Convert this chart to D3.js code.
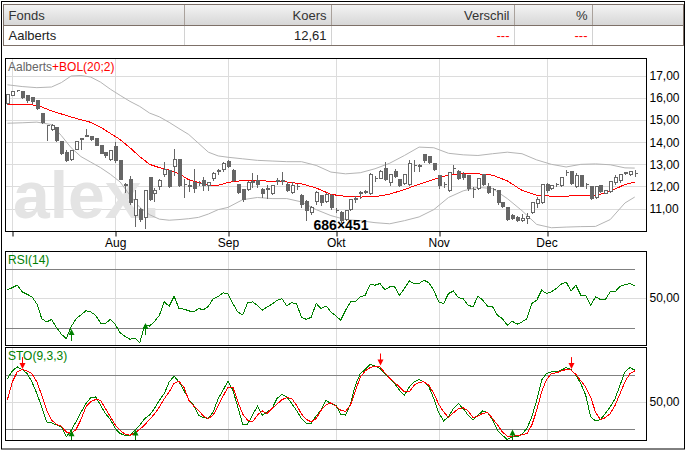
<!DOCTYPE html>
<html>
<head>
<meta charset="utf-8">
<script src="https://cdn.jsdelivr.net/npm/d3@7"></script>
<style>
body { margin: 0; background: #fff; }
svg { display: block; font-family: Arial, "Liberation Sans", sans-serif; }
</style>
</head>
<body>
<svg id="chart" width="686" height="451"></svg>
<script>
// ---- data (day index 0 = 30 Jun, last = 28 Dec) ----
const tableHeaders = ["Fonds", "Koers", "Verschil", "%"];
const tableRow = ["Aalberts", "12,61", "---", "---"];

const monthIdx = [1, 22, 45, 67, 88, 110];
const monthLabels = ["", "Aug", "Sep", "Okt", "Nov", "Dec"];
const priceTicks = [11, 12, 13, 14, 15, 16, 17];

const opens = [15.77,16.15,16.36,16.31,16.12,16.04,15.92,15.32,14.78,14.61,
  14.68,14.04,13.55,13.22,13.71,14.14,14.30,14.28,14.19,13.86,
  13.55,13.22,13.83,13.18,12.06,12.35,10.69,10.99,10.61,12.42,
  11.71,12.00,12.54,12.75,12.92,13.22,12.10,12.03,12.20,12.14,
  12.27,12.05,12.39,12.71,12.80,13.13,12.76,12.09,11.87,11.90,
  12.22,12.30,11.90,11.90,11.70,12.26,12.26,12.09,11.74,12.01,
  11.63,11.34,10.84,11.32,11.59,11.34,11.63,10.93,10.84,10.54,
  10.96,11.45,11.72,11.74,11.71,12.38,12.40,12.84,12.20,12.72,
  12.32,12.14,12.10,12.96,12.94,13.45,13.38,13.05,12.53,12.10,
  11.82,12.82,12.68,12.58,12.50,11.88,11.95,12.58,12.00,11.88,
  11.82,11.29,11.05,10.70,10.60,10.50,10.55,10.84,11.26,11.29,
  12.10,11.93,12.10,12.07,12.64,12.72,12.02,12.50,12.10,12.00,
  11.52,12.05,11.72,11.78,12.21,12.30,12.62,12.58,12.62];
const highs = [16.22,16.35,16.42,16.36,16.15,16.06,15.96,15.36,14.82,14.86,
  14.72,14.07,13.70,13.66,14.06,14.21,14.66,14.31,14.24,13.89,
  13.58,13.66,14.06,13.24,12.20,12.50,11.88,11.05,11.85,12.47,
  11.97,12.40,13.15,12.80,13.75,13.28,12.40,12.32,12.85,12.28,
  12.45,12.25,12.68,12.85,13.15,13.22,12.82,12.13,11.90,12.30,
  12.65,12.55,11.98,12.10,12.13,12.42,12.72,12.23,12.23,12.17,
  11.68,11.45,11.17,11.82,11.65,11.74,11.72,11.06,10.92,11.00,
  11.47,11.60,11.82,11.90,12.65,12.50,12.80,13.13,12.60,12.84,
  12.36,12.62,13.24,13.22,13.06,13.52,13.42,13.10,12.56,12.25,
  12.72,13.00,12.80,12.68,12.54,12.00,12.42,12.62,12.20,11.98,
  11.90,11.32,11.08,10.78,10.72,10.80,10.85,11.32,11.55,12.16,
  12.20,12.08,12.22,12.44,12.78,12.76,12.65,12.55,12.20,12.02,
  12.04,12.10,11.90,12.26,12.58,12.60,12.72,12.74,12.80];
const lows = [15.72,16.12,16.30,16.00,15.80,15.76,15.50,14.88,14.08,14.56,
  14.05,13.46,13.14,13.18,13.68,13.71,14.26,14.10,13.86,13.50,
  13.33,13.18,13.12,12.32,11.75,11.22,10.20,10.45,10.12,11.40,
  11.35,11.90,12.45,11.98,12.50,12.02,11.52,11.78,11.75,12.05,
  11.85,11.85,12.30,12.55,12.70,12.88,12.25,11.70,11.33,11.85,
  11.97,11.97,11.52,11.48,11.66,12.12,12.12,11.78,11.70,11.90,
  11.07,10.46,10.77,11.22,11.17,11.30,10.99,10.84,10.40,10.50,
  10.92,11.30,11.48,11.68,11.66,12.25,12.36,12.30,12.05,12.44,
  12.03,12.10,12.05,12.72,12.72,13.12,13.08,12.74,11.92,11.96,
  11.80,12.60,12.32,12.35,11.84,11.52,11.90,12.05,11.72,11.62,
  11.22,11.05,10.50,10.52,10.42,10.45,10.35,10.80,11.05,11.25,
  11.76,11.90,12.00,12.00,12.50,12.12,11.98,12.00,11.95,11.44,
  11.46,11.76,11.68,11.74,12.10,12.22,12.55,12.52,12.48];
const closes = [16.19,16.31,16.38,16.04,15.89,15.85,15.55,14.91,14.76,14.79,
  14.08,13.50,13.18,13.63,14.04,14.17,14.33,14.16,13.89,13.52,
  13.40,13.63,13.18,12.35,12.09,11.29,11.44,10.54,11.82,11.44,
  11.86,12.27,12.80,12.00,13.22,12.05,12.13,12.05,11.94,12.16,
  12.06,12.20,12.62,12.74,13.07,12.92,12.30,11.74,11.41,12.20,
  12.25,12.09,11.71,11.93,12.05,12.28,12.28,11.85,12.05,12.03,
  11.19,10.92,11.07,11.74,11.29,11.67,11.07,10.95,10.46,10.92,
  11.44,11.47,11.74,11.78,12.57,12.40,12.72,12.32,12.56,12.47,
  12.08,12.58,13.08,12.98,12.96,13.18,13.10,12.77,12.05,12.12,
  12.65,12.84,12.40,12.42,11.92,11.90,12.38,12.10,11.77,11.90,
  11.29,11.10,10.54,10.58,10.46,10.58,10.68,11.29,11.41,12.12,
  11.82,12.05,12.12,12.42,12.66,12.15,12.53,12.03,12.12,11.49,
  12.00,11.80,11.85,12.24,12.41,12.54,12.64,12.70,12.61];

// Bollinger (20;2) read at these day indices
const bolIdx = [0,3,6,9,11,13,15,17,19,21,23,25,27,29,31,33,35,37,39,41,43,45,48,51,54,57,60,63,66,69,
  72,75,78,81,84,87,90,93,96,99,102,105,108,111,114,117,120,123,126,128];
const bolMid = [15.70,15.70,15.68,15.42,15.28,15.14,15.02,14.90,14.68,14.40,
  14.12,13.75,13.35,13.00,12.85,12.74,12.58,12.30,12.18,12.06,
  12.05,12.18,12.27,12.28,12.22,12.20,12.12,11.93,11.64,11.55,
  11.52,11.53,11.65,11.86,12.10,12.32,12.52,12.58,12.57,12.51,
  12.25,11.82,11.60,11.56,11.56,11.59,11.59,11.78,12.09,12.20];
const bolUp = [16.60,16.52,16.47,16.50,16.70,17.00,17.02,16.95,16.72,16.40,
  16.12,15.85,15.62,15.32,15.15,14.90,14.62,14.35,13.95,13.55,
  13.38,13.32,13.25,13.18,13.15,13.12,13.12,12.95,12.65,12.57,
  12.62,12.80,13.05,13.40,13.78,13.75,13.50,13.43,13.40,13.48,
  13.55,13.48,13.20,13.00,12.88,13.00,13.02,12.98,12.84,12.83];
const bolLow = [14.86,14.88,14.91,14.80,14.30,13.75,13.35,13.10,12.85,12.55,
  12.20,11.60,11.05,10.72,10.52,10.47,10.50,10.54,10.60,10.75,
  10.95,11.05,11.40,11.50,11.45,11.45,11.30,10.95,10.68,10.50,
  10.45,10.36,10.31,10.45,10.62,10.95,11.50,11.80,11.96,11.90,
  11.45,10.90,10.28,10.13,10.16,10.18,10.19,10.50,11.25,11.52];

const rsi = [55.7,57,58.7,54.2,52.5,50.8,46,36,33.8,35.4,
  30,25.5,22.5,30.5,36,38.5,41.3,40.5,38.3,33,
  32.7,35.6,32,26.4,24,22,22.8,19.6,31.6,31,
  34,38.3,47.4,44.4,51.2,42.9,42.5,41.3,40.5,42.9,
  42,44.4,49.6,51,53.5,53,46.3,40.5,38.5,46.7,
  47.4,45,41.7,44,45.8,48.5,49.6,44.7,46.9,46,
  37,35.5,37,46.3,42.9,44.7,40.6,38,34.9,41.7,
  47.4,47.4,50.8,51.9,59.1,58.7,59.8,55.7,57.5,57.5,
  51.9,56.4,61.6,59.8,59.8,62.1,60.3,55.3,47.4,46.3,
  53,54.8,50.3,49.6,45.1,44,51.2,48.5,44.4,44,
  38.3,36,31.6,34.3,32.2,33.8,36,46.3,48.5,55.3,
  53,54.2,56.4,59.4,60.9,54.8,58.7,51.9,51.9,45.1,
  50.8,49,49,54.2,54.2,58,59.1,59.8,58.2];

const stoK = [75.5,84,88.5,85.5,81,71.8,58.8,44,27.4,26.2,
  24,21.8,10.7,18.1,27.4,38,47.7,54.4,55.1,45.9,
  36.6,30,20,14.4,12.5,12.5,18.1,23.7,31.1,34.8,
  42.2,51.4,58.8,71.8,78.1,71.8,62.5,52.2,45.9,34.8,
  32.2,31.1,38.5,53.3,62.5,72.9,62.5,44,24.8,24.8,
  34.8,44.8,34.8,38.5,42.2,53.3,58.1,55.1,47.7,40,
  31,26,26,34,40.3,51.4,47.7,45.9,35.9,34.8,
  47.7,68.1,81,85.5,91.4,89.2,86.6,81,75.5,69.9,
  62.5,57,66.2,71.8,74.4,71.8,66.2,53.3,37.4,28.5,
  32.9,42.2,47.7,42.2,34.8,29.2,34.8,39.6,37.4,29.2,
  18.1,12.5,7.7,10.7,10.7,13.7,20,32.9,51.4,73.7,
  81,82.9,82.9,84.8,87.7,85.5,79.2,69.9,57,32.9,
  28.5,30,36.6,44,53.3,68.1,82.9,87.7,84.8];
const stoD = [52.2,71.8,82.9,85.5,84,81,71.8,57,40.3,29.2,
  24.8,22.5,16.2,14.4,18.8,30,44,50,52.2,51.4,
  42.2,33,24,18,13.7,12.5,15.1,19,24,30,
  36,44,53,60.7,70,72.5,66,51.4,45,40.3,
  33.7,31.1,35,45,56,66,66,50,36,29.2,
  27.4,34.8,39.6,36.6,42.2,47,52,54.4,53.3,45.9,
  36,30,27.4,31.1,40.3,46,48.5,45,40.3,39,
  46,62,77,84,87.7,89.2,88.5,82,76,71,
  66.2,60.7,60.7,68.1,71.5,71.8,68,59,47,38.5,
  32.2,37.4,42,43,39.6,32.2,33.7,37,37.5,31,
  24,16,11.5,11.4,12,13,14.4,23.7,40.3,60.7,
  74.4,81,81.8,84,85.5,85,80,73,66,55,
  38,30,32,36.6,45.9,58.8,71.8,81,84];

// signal arrows: day index and value at the arrow tip
const rsiBuyIdx = [13, 28];
const rsiBuyVal = [29, 33];
const stoBuyIdx = [13, 26, 103];
const stoBuyVal = [18, 19, 19];
const stoSellIdx = [3, 76, 115];
const stoSellVal = [86, 90, 86];

// ---- layout ----
const panelX0 = 5.5, panelX1 = 646.5;
const mainTop = 58.5, mainBottom = 231.5;
const rsiTop = 251.5, rsiBottom = 345.5;
const stoTop = 347.5, stoBottom = 440.5;

const grey = "#666666";
const gridColor = "#dcdcdc";
const green = "#008000";
const font = "Arial, 'Liberation Sans', sans-serif";

const nl = d3.formatLocale({decimal: ",", thousands: ".", grouping: [3], currency: ["", "€"]});
const fmt = nl.format(".2f");

const x = d3.scaleLinear().domain([-0.5, 130.3]).range([5, 646]);
const y = d3.scaleLinear().domain([9.96, 17.79]).range([mainBottom, mainTop]);
const yRsi = d3.scaleLinear().domain([30, 70]).range([327.5, 268.5]);
const ySto = d3.scaleLinear().domain([20, 80]).range([428.5, 374.5]);

const px = v => Math.round(v) + 0.5;

const svg = d3.select("#chart");
const defs = svg.append("defs");

let grad = defs.append("linearGradient").attr("id", "hdr").attr("x1", 0).attr("y1", 0).attr("x2", 0).attr("y2", 1);
grad.append("stop").attr("offset", "0%").attr("stop-color", "#f4f4f4");
grad.append("stop").attr("offset", "100%").attr("stop-color", "#d6d6d6");

[["clipMain", mainTop, mainBottom], ["clipRsi", rsiTop, rsiBottom], ["clipSto", stoTop, stoBottom]].forEach(c => {
    defs.append("clipPath").attr("id", c[0]).append("rect")
        .attr("x", panelX0).attr("y", c[1]).attr("width", panelX1 - panelX0).attr("height", c[2] - c[1]);
});

// outer frame
svg.append("rect").attr("x", 1.5).attr("y", 1.5).attr("width", 683).attr("height", 447.5)
    .attr("fill", "#fff").attr("stroke", "#000");

// ---- quote table ----
const colX = [3.5, 184.5, 331.5, 514.5, 592.5, 683.5];
const tHead = 4.5, tMid = 25.5, tBot = 45.5;
const table = svg.append("g").attr("shape-rendering", "crispEdges");

table.append("rect").attr("x", colX[0]).attr("y", tHead).attr("width", colX[5] - colX[0]).attr("height", tMid - tHead)
    .attr("fill", "url(#hdr)");
table.selectAll("line.hsep").data(colX.slice(1, 5)).join("line")
    .attr("x1", d => d).attr("x2", d => d).attr("y1", tHead).attr("y2", tMid).attr("stroke", "#a9a19b");
table.selectAll("line.rsep").data(colX.slice(1, 5)).join("line")
    .attr("x1", d => d).attr("x2", d => d).attr("y1", tMid).attr("y2", tBot).attr("stroke", "#d2d2d2");
table.append("line").attr("x1", colX[0]).attr("x2", colX[5]).attr("y1", tMid).attr("y2", tMid).attr("stroke", "#7d7068");
table.append("rect").attr("x", colX[0]).attr("y", tHead).attr("width", colX[5] - colX[0]).attr("height", tBot - tHead)
    .attr("fill", "none").attr("stroke", "#7d7068");

tableHeaders.forEach((h, i) => {
    svg.append("text")
        .attr("x", i === 0 ? colX[0] + 5 : colX[i + 1] - 5)
        .attr("y", 19.5)
        .attr("text-anchor", i === 0 ? "start" : "end")
        .attr("font-size", 13).attr("fill", "#333")
        .text(h);
});
tableRow.forEach((h, i) => {
    svg.append("text")
        .attr("x", i === 0 ? colX[0] + 5 : colX[i + 1] - 5)
        .attr("y", 40)
        .attr("text-anchor", i === 0 ? "start" : "end")
        .attr("font-size", 13).attr("fill", h === "---" ? "#ff0000" : "#222")
        .text(h);
});

// ---- panel grids ----
function panelGrid(top, bottom, hValues, yScale) {
    let g = svg.append("g").attr("shape-rendering", "crispEdges");
    g.selectAll("line.v").data(monthIdx).join("line")
        .attr("x1", d => px(x(d))).attr("x2", d => px(x(d)))
        .attr("y1", top).attr("y2", bottom).attr("stroke", gridColor);
    g.selectAll("line.h").data(hValues).join("line")
        .attr("x1", panelX0).attr("x2", panelX1)
        .attr("y1", d => px(yScale(d))).attr("y2", d => px(yScale(d))).attr("stroke", gridColor);
    return g;
}

panelGrid(mainTop, mainBottom, priceTicks, y);
panelGrid(rsiTop, rsiBottom, [50], yRsi);
panelGrid(stoTop, stoBottom, [50], ySto);

// ---- main price panel ----
const main = svg.append("g").attr("clip-path", "url(#clipMain)");

main.append("text")
    .attr("x", 13).attr("y", 218)
    .attr("font-size", 66).attr("font-weight", "bold").attr("fill", "#e4e4e4")
    .text("alex.");

const bolLine = vals => d3.line().x((d, i) => x(bolIdx[i])).y(d => y(d))(vals);
main.append("path").attr("d", bolLine(bolUp)).attr("fill", "none").attr("stroke", "#b4b4b4");
main.append("path").attr("d", bolLine(bolLow)).attr("fill", "none").attr("stroke", "#b4b4b4");
main.append("path").attr("d", bolLine(bolMid)).attr("fill", "none").attr("stroke", "#ff0000")
    .attr("shape-rendering", "crispEdges");

const candles = main.append("g").attr("shape-rendering", "crispEdges")
    .selectAll("g").data(d3.range(opens.length)).join("g");

candles.append("line")
    .attr("x1", i => px(x(i))).attr("x2", i => px(x(i)))
    .attr("y1", i => px(y(highs[i]))).attr("y2", i => px(y(lows[i])))
    .attr("stroke", grey);

candles.append("path")
    .attr("d", i => {
        let c = px(x(i));
        let t = px(y(Math.max(opens[i], closes[i])));
        let b = px(y(Math.min(opens[i], closes[i])));
        return `M${c - 1},${t}H${c + 2}V${b}H${c - 1}Z`;
    })
    .attr("fill", i => closes[i] >= opens[i] ? "#fff" : grey)
    .attr("stroke", grey);

svg.append("text").attr("x", 8).attr("y", 71).attr("font-size", 12)
    .call(t => t.append("tspan").attr("fill", grey).text("Aalberts"))
    .call(t => t.append("tspan").attr("fill", "#ff0000").text("+BOL(20;2)"));

svg.append("rect").attr("x", panelX0).attr("y", mainTop).attr("width", panelX1 - panelX0).attr("height", mainBottom - mainTop)
    .attr("fill", "none").attr("stroke", "#000").attr("shape-rendering", "crispEdges");

// price axis
let yAxis = svg.append("g").attr("transform", `translate(${panelX1},0)`)
    .call(d3.axisRight(y).tickValues(priceTicks).tickSize(0).tickPadding(3).tickFormat(fmt));
yAxis.select(".domain").remove();
yAxis.selectAll("text").attr("font-size", 12).attr("font-family", font).attr("fill", "#000");

// month axis
let xAxis = svg.append("g").attr("transform", `translate(0,${mainBottom})`)
    .call(d3.axisBottom(x).tickValues(monthIdx).tickSize(5).tickPadding(2)
        .tickFormat(d => monthLabels[monthIdx.indexOf(d)]));
xAxis.select(".domain").remove();
xAxis.selectAll("line").attr("stroke", "#000")
    .attr("x1", d => px(x(d)) - x(d)).attr("x2", d => px(x(d)) - x(d));
xAxis.selectAll("text").attr("font-size", 12).attr("font-family", font).attr("fill", "#000");

// ---- RSI panel ----
const rsiG = svg.append("g").attr("clip-path", "url(#clipRsi)");
[30, 70].forEach(v => {
    rsiG.append("line").attr("x1", panelX0).attr("x2", x(opens.length - 1))
        .attr("y1", px(yRsi(v))).attr("y2", px(yRsi(v)))
        .attr("stroke", "#808080").attr("shape-rendering", "crispEdges");
});
rsiG.append("path")
    .attr("d", d3.line().x((d, i) => x(i)).y(d => yRsi(d))(rsi))
    .attr("fill", "none").attr("stroke", green).attr("shape-rendering", "crispEdges");

function upArrow(g, cx, ty, color) {
    cx = px(cx);
    g.append("line").attr("x1", cx).attr("x2", cx).attr("y1", ty + 4).attr("y2", ty + 12).attr("stroke", color);
    g.append("path").attr("d", `M${cx},${ty}L${cx - 3},${ty + 6}L${cx + 3},${ty + 6}Z`).attr("fill", color);
}
function downArrow(g, cx, ty, color) {
    cx = px(cx);
    g.append("line").attr("x1", cx).attr("x2", cx).attr("y1", ty - 12).attr("y2", ty - 4).attr("stroke", color);
    g.append("path").attr("d", `M${cx},${ty}L${cx - 3},${ty - 6}L${cx + 3},${ty - 6}Z`).attr("fill", color);
}

rsiBuyIdx.forEach((d, i) => upArrow(rsiG, x(d), yRsi(rsiBuyVal[i]), green));

svg.append("text").attr("x", 8).attr("y", 264).attr("font-size", 12).attr("fill", green).text("RSI(14)");
svg.append("rect").attr("x", panelX0).attr("y", rsiTop).attr("width", panelX1 - panelX0).attr("height", rsiBottom - rsiTop)
    .attr("fill", "none").attr("stroke", "#000").attr("shape-rendering", "crispEdges");

let rsiAxis = svg.append("g").attr("transform", `translate(${panelX1},0)`)
    .call(d3.axisRight(yRsi).tickValues([50]).tickSize(0).tickPadding(3).tickFormat(fmt));
rsiAxis.select(".domain").remove();
rsiAxis.selectAll("text").attr("font-size", 12).attr("font-family", font).attr("fill", "#000");

// ---- STO panel ----
const stoG = svg.append("g").attr("clip-path", "url(#clipSto)");
[20, 80].forEach(v => {
    stoG.append("line").attr("x1", panelX0).attr("x2", x(opens.length - 1))
        .attr("y1", px(ySto(v))).attr("y2", px(ySto(v)))
        .attr("stroke", "#808080").attr("shape-rendering", "crispEdges");
});
stoG.append("path")
    .attr("d", d3.line().x((d, i) => x(i)).y(d => ySto(d))(stoK))
    .attr("fill", "none").attr("stroke", green).attr("shape-rendering", "crispEdges");
stoG.append("path")
    .attr("d", d3.line().x((d, i) => x(i)).y(d => ySto(d))(stoD))
    .attr("fill", "none").attr("stroke", "#ff0000").attr("shape-rendering", "crispEdges");

stoBuyIdx.forEach((d, i) => upArrow(stoG, x(d), ySto(stoBuyVal[i]), green));
stoSellIdx.forEach((d, i) => downArrow(stoG, x(d), ySto(stoSellVal[i]), "#ff0000"));

svg.append("text").attr("x", 8).attr("y", 360).attr("font-size", 12).attr("fill", green).text("STO(9,3,3)");
svg.append("rect").attr("x", panelX0).attr("y", stoTop).attr("width", panelX1 - panelX0).attr("height", stoBottom - stoTop)
    .attr("fill", "none").attr("stroke", "#000").attr("shape-rendering", "crispEdges");

let stoAxis = svg.append("g").attr("transform", `translate(${panelX1},0)`)
    .call(d3.axisRight(ySto).tickValues([50]).tickSize(0).tickPadding(3).tickFormat(fmt));
stoAxis.select(".domain").remove();
stoAxis.selectAll("text").attr("font-size", 12).attr("font-family", font).attr("fill", "#000");

// size stamp
svg.append("text").attr("x", 341).attr("y", 230).attr("text-anchor", "middle")
    .attr("font-size", 14).attr("font-weight", "bold").attr("fill", "#000")
    .text("686×451");
</script>
</body>
</html>
